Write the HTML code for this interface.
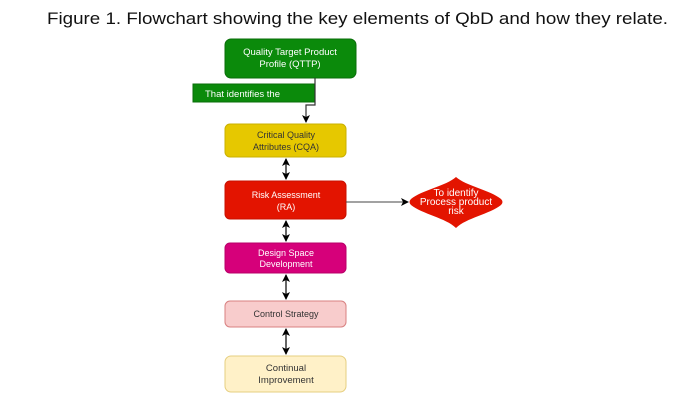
<!DOCTYPE html>
<html><head><style>body{margin:0;background:#fff}svg{display:block}</style></head>
<body>
<svg width="694" height="404" xmlns="http://www.w3.org/2000/svg" font-family="Liberation Sans, sans-serif">
<defs>
<marker id="a" markerWidth="8" markerHeight="8" refX="7" refY="4" orient="auto-start-reverse" markerUnits="userSpaceOnUse"><path d="M0,0 L8,4 L0,8 L2,4 z" fill="#000"/></marker>
</defs>
<text x="47" y="24" font-size="17" textLength="621" lengthAdjust="spacingAndGlyphs" fill="#111">Figure 1. Flowchart showing the key elements of QbD and how they relate.</text>
<rect x="225" y="39" width="131" height="39" rx="6" fill="#0b8a0b" stroke="#0a6e0a"/>
<text x="290" y="55" font-size="9.5" fill="#fff" text-anchor="middle">Quality Target Product</text>
<text x="290" y="67" font-size="9.5" fill="#fff" text-anchor="middle">Profile (QTTP)</text>
<rect x="193" y="84" width="122" height="18" fill="#0b8a0b" stroke="#0a6e0a"/>
<text x="205" y="97" font-size="9.5" fill="#fff">That identifies the</text>
<path d="M315,78 V105 H306 V122" fill="none" stroke="#333" stroke-width="1.2" marker-end="url(#a)"/>
<rect x="225" y="124" width="121" height="33" rx="5" fill="#e6c800" stroke="#c9b000"/>
<text x="286" y="138" font-size="9" fill="#333" text-anchor="middle">Critical Quality</text>
<text x="286" y="150" font-size="9" fill="#333" text-anchor="middle">Attributes (CQA)</text>
<path d="M286,159 V179" stroke="#000" stroke-width="1.2" marker-start="url(#a)" marker-end="url(#a)"/>
<rect x="225" y="181" width="121" height="38" rx="5" fill="#e31400" stroke="#c81000"/>
<text x="286" y="198" font-size="9" fill="#fff" text-anchor="middle">Risk Assessment</text>
<text x="286" y="210" font-size="9" fill="#fff" text-anchor="middle">(RA)</text>
<path d="M346,202 H408" stroke="#444" stroke-width="1" marker-end="url(#a)"/>
<path d="M456,177 C466,186 490,190 501,199 Q504,202 501,205 C490,214 466,218 456,228 C446,218 422,214 411,205 Q408,202 411,199 C422,190 446,186 456,177 z" fill="#e31400"/>
<text x="456" y="196" font-size="10" fill="#fff" text-anchor="middle">To identify</text>
<text x="456" y="205" font-size="10" fill="#fff" text-anchor="middle">Process product</text>
<text x="456" y="214" font-size="10" fill="#fff" text-anchor="middle">risk</text>
<path d="M286,221 V241" stroke="#000" stroke-width="1.2" marker-start="url(#a)" marker-end="url(#a)"/>
<rect x="225" y="243" width="121" height="30" rx="5" fill="#d6007a" stroke="#b80068"/>
<text x="286" y="256" font-size="9" fill="#fff" text-anchor="middle">Design Space</text>
<text x="286" y="267" font-size="9" fill="#fff" text-anchor="middle">Development</text>
<path d="M286,275 V299" stroke="#000" stroke-width="1.2" marker-start="url(#a)" marker-end="url(#a)"/>
<rect x="225" y="301" width="121" height="26" rx="5" fill="#f8cccc" stroke="#d88080"/>
<text x="286" y="317" font-size="9" fill="#333" text-anchor="middle">Control Strategy</text>
<path d="M286,329 V354" stroke="#000" stroke-width="1.2" marker-start="url(#a)" marker-end="url(#a)"/>
<rect x="225" y="356" width="121" height="36" rx="6" fill="#fff1c8" stroke="#e6cf80"/>
<text x="286" y="371" font-size="9.5" fill="#333" text-anchor="middle">Continual</text>
<text x="286" y="383" font-size="9.5" fill="#333" text-anchor="middle">Improvement</text>
</svg>
</body></html>
